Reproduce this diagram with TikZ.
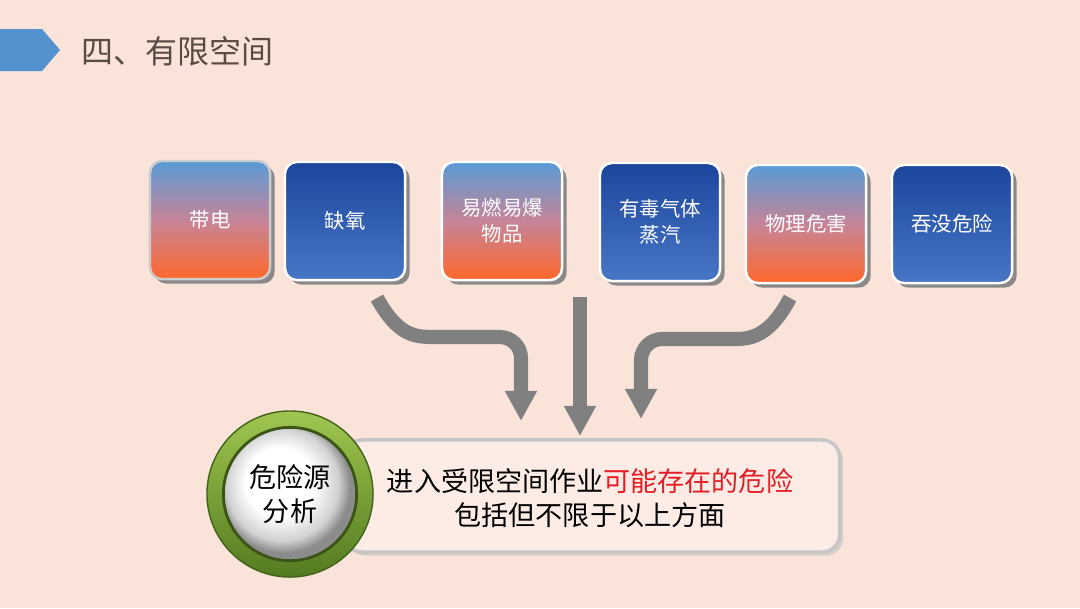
\documentclass[tikz,border=0pt]{standalone}
\usepackage{fontspec}
\setmainfont{Noto Sans CJK SC}
\usetikzlibrary{arrows.meta,shadows,positioning}

\definecolor{bgpeach}{RGB}{250,228,217}
\definecolor{tagblue}{RGB}{84,146,207}
\definecolor{titlegray}{RGB}{89,76,68}
\definecolor{deepblue}{RGB}{28,70,156}
\definecolor{softblue}{RGB}{72,118,198}
\definecolor{skyblue}{RGB}{88,155,214}
\definecolor{rosemid}{RGB}{198,132,152}
\definecolor{hotorange}{RGB}{255,104,44}
\definecolor{arrowgray}{RGB}{128,128,128}
\definecolor{ringlight}{RGB}{160,198,80}
\definecolor{ringdark}{RGB}{84,122,32}
\definecolor{alertred}{RGB}{228,30,36}
\definecolor{panelfill}{RGB}{252,236,229}

\pgfdeclareradialshading{pearl}{\pgfpoint{-5bp}{6bp}}{color(0bp)=(white);
  color(13bp)=(white); color(21bp)=(black!18); color(25bp)=(black!45); color(50bp)=(black!45)}

\begin{document}
\begin{tikzpicture}[x=0.01cm,y=-0.01cm,
  hazard/.style={rounded corners=3.4pt,minimum width=1.2cm,minimum height=1.18cm,
    align=center,text=white,font=\fontsize{5.8pt}{7.4pt}\selectfont,
    draw=white,line width=0.7pt,
    drop shadow={shadow xshift=1.3pt,shadow yshift=-1.3pt,fill=black!50,opacity=0.9}},
  warm/.style={hazard,top color=skyblue,bottom color=hotorange,middle color=rosemid},
  cool/.style={hazard,top color=deepblue,bottom color=softblue},
  flow/.style={line width=4pt,arrowgray,rounded corners=6pt,
    -{Triangle[width=8.6pt,length=8.6pt]}}]
 \fill[bgpeach] (0,0) rectangle (1080,608);
 % title bar
 \fill[tagblue] (0,29) -- (42,29) -- (60,50) -- (42,71) -- (0,71) -- cycle;
 \node[anchor=west,text=titlegray,font=\fontsize{9.1pt}{10pt}\selectfont] (title) at (69,51) {四、有限空间};
 % hazard boxes
 \node[warm,draw=gray!40] (dd) at (210,220) {带电};
 \node[cool] (qy) at (345,221) {缺氧};
 \node[warm] (yr) at (502,221) {易燃易爆\\物品};
 \node[cool] (yd) at (660,222) {有毒气体\\蒸汽};
 \node[warm] (wl) at (806,224) {物理危害};
 \node[cool] (tm) at (952,224) {吞没危险};
 % arrows
 \coordinate (l0) at (377,298);
 \coordinate (l1) at (521,421);
 \coordinate (m0) at (580,297);
 \coordinate (m1) at (580,436);
 \coordinate (r0) at (790,298);
 \coordinate (r1) at (641,419);
 \draw[flow] (l0) .. controls (398,336) and (415,337) .. (455,337) -- (521,337) -- (l1);
 \draw[flow] (m0) -- (m1);
 \draw[flow] (r0) .. controls (772,332) and (755,339) .. (715,339) -- (641,339) -- (r1);
 % summary panel
 \node[draw=gray!45,line width=1pt,fill=panelfill,rounded corners=5pt,
   minimum width=4.95cm,minimum height=1.12cm,
   drop shadow={shadow xshift=1pt,shadow yshift=-1pt,fill=black!25,opacity=0.6}] (panel) at (592,496) {};
 \node[align=center,font=\fontsize{7.7pt}{9.6pt}\selectfont] (note) at (590,498)
   {进入受限空间作业\textcolor{alertred}{可能存在的危险}\\包括但不限于以上方面};
 % badge
 \node[circle,minimum size=1.66cm,top color=ringlight,bottom color=ringdark,
   draw=ringdark!80!black,line width=0.4pt] (ring) at (290,494) {};
 \node[circle,minimum size=1.26cm,shading=pearl,
   draw=ringdark!70!black,line width=0.8pt,align=center,
   font=\fontsize{7.7pt}{9.6pt}\selectfont] (yuan) at (ring) {危险源\\分析};
\end{tikzpicture}
\end{document}
